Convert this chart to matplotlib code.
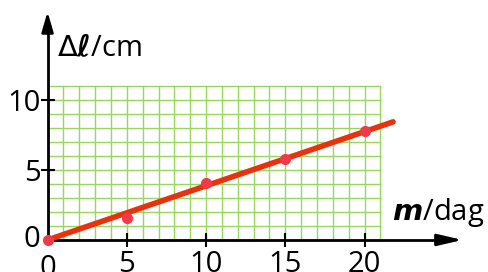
import numpy as np
import matplotlib.pyplot as plt

# measured data: mass (dag) vs extension (cm)
m = [0, 5, 10, 15, 20]
dl = [0, 1.6, 4.05, 5.75, 7.75]
fit_x = [0, 21.8]
slope = 0.387
xticks = [0, 5, 10, 15, 20]
yticks = [0, 5, 10]

plt.rcParams['font.family'] = ['Open Sans', 'DejaVu Sans']

fig = plt.figure(figsize=(4.89, 2.72), dpi=100)
ax = fig.add_axes([0, 0, 1, 1])
ax.set_xlim(-3.0, 27.85)
ax.set_ylim(-2.29, 17.14)

# graph paper
green = '#9ad65e'
for gx in range(0, 22):
    ax.plot([gx, gx], [0, 11], color=green, lw=1.0, zorder=1)
for gy in range(0, 12):
    ax.plot([0, 21], [gy, gy], color=green, lw=1.0, zorder=1)

# axes with arrows
for s in ['top', 'right']:
    ax.spines[s].set_visible(False)
ax.spines['left'].set_position(('data', 0))
ax.spines['bottom'].set_position(('data', 0))
ax.spines['left'].set_bounds(0, 15.5)
ax.spines['bottom'].set_bounds(0, 25)
ax.spines['left'].set_linewidth(2)
ax.spines['bottom'].set_linewidth(2)
ax.annotate('', xy=(26.35, 0), xytext=(24.5, 0),
            arrowprops=dict(arrowstyle='-|>,head_length=1.5,head_width=0.35',
                            color='black', lw=2), zorder=5)
ax.annotate('', xy=(0, 16.5), xytext=(0, 14.8),
            arrowprops=dict(arrowstyle='-|>,head_length=1.2,head_width=0.35',
                            color='black', lw=2), zorder=5)

ax.set_xticks(xticks[1:])
ax.set_xticklabels([str(t) for t in xticks[1:]])
ax.set_yticks(yticks[1:])
ax.set_yticklabels([str(t) for t in yticks[1:]])
ax.tick_params(direction='inout', length=10, width=1.5, labelsize=21, pad=0)
ax.tick_params(axis='x', pad=2)
ax.text(0, -1.0, '0', fontsize=21, ha='center', va='top')
ax.text(-0.45, 0, '0', fontsize=21, ha='right', va='center')

# fit line and points
fx = np.array(fit_x)
ax.plot(fx, slope * fx, color='#e8320e', lw=4, solid_capstyle='round', zorder=3)
ax.plot(m, dl, 'o', color='#f03a4a', ms=7, zorder=4)

ax.text(0.6, 13.1, r'$\Delta\boldsymbol{\ell}$/cm', fontsize=21, ha='left', va='baseline')
ax.text(21.7, 1.45, r'$\boldsymbol{m}$/dag', fontsize=21, ha='left', va='baseline')

fig.savefig('out.png', dpi=100)
